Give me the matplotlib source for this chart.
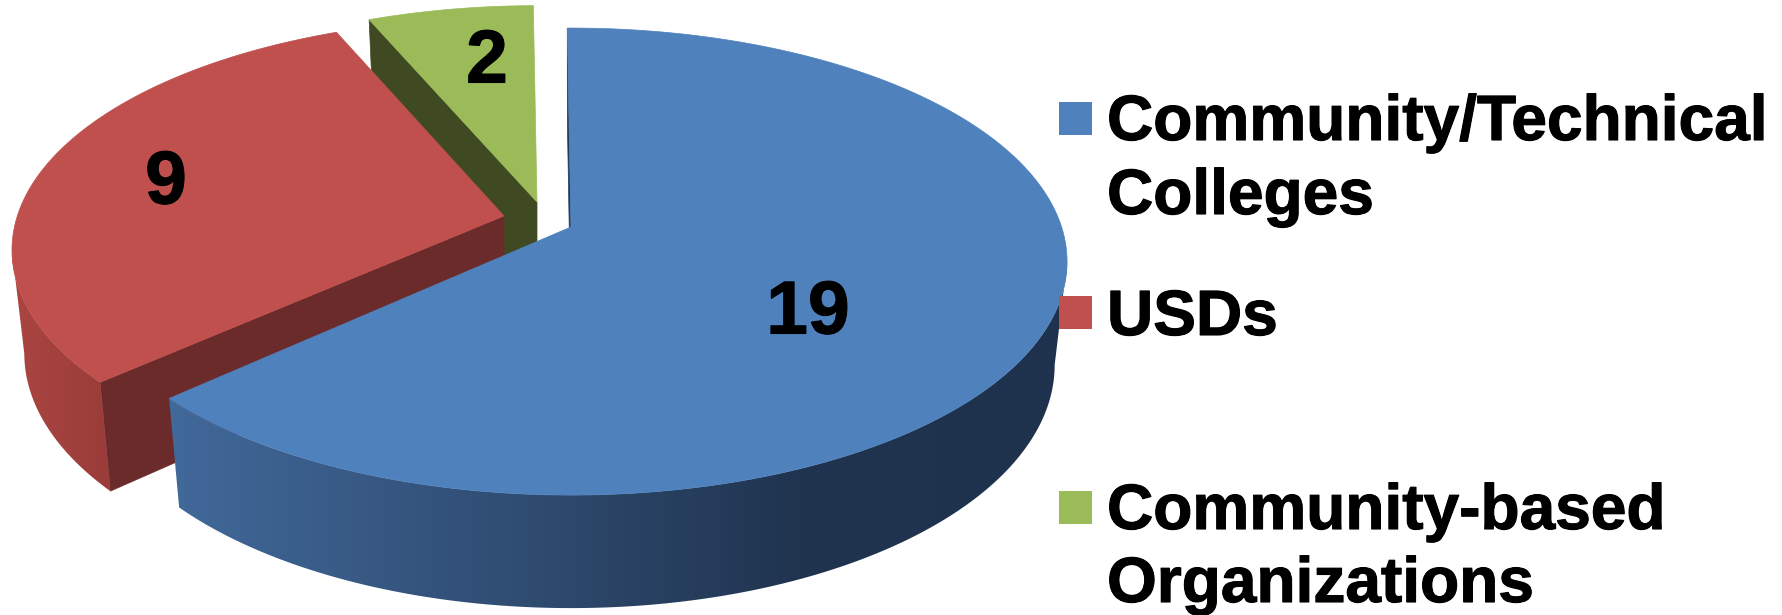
"""3D exploded pie chart with a hand drawn perspective, and a legend on the right."""

import numpy as np
from matplotlib import pyplot as plt
from matplotlib import patheffects
from matplotlib.colors import to_rgb
from matplotlib.patches import Polygon, Rectangle

plt.rcParams['font.family'] = ['Liberation Sans', 'DejaVu Sans']

# chart data
categories = ['Community/Technical\nColleges', 'USDs', 'Community-based\nOrganizations']
values = [19, 9, 2]

# colours for each slice
top_colors = ['#4F81BD', '#C0504D', '#9BBB59']
face_colors = ['#1F3A5C', '#6B2B2B', '#3F4A22']
# (x position, colour) stops of the shaded outer rim
rim_stops = [[(172, '#41699A'), (568, '#2D486C'), (800, '#20344F'), (1067, '#1E324D')],
             [(11, '#AA4642'), (108, '#9B3C3A')],
             [(0, '#3F4A22'), (1, '#3F4A22')]]

# pie shape, in pixels of the output picture
CENTER_X = 571
CENTER_Y = 227
RADIUS_X = 490.6
RADIUS_Y = 228.4
PERSPECTIVE = 0.148
DEPTH = 102
LOWER_SCALE = 0.975
START_ANGLE = 90.5
explode = [(0, 0), (-67, -11), (-34, -25)]
# small turn of the edges of a slice, in degrees (first edge, last edge)
turn = [(0, 0), (-1.0, -1.5), (-1.3, 0)]
radius_scale = [1, 0.992, 0.985]

# text and legend positions
value_pos = [(808, 314), (166, 184), (487, 63)]
legend_box_y = [102, 296, 491]
legend_baselines = [[140, 214], [335], [529, 602]]

bold_edge = [patheffects.withStroke(linewidth=0.8, foreground='black')]


def project(angle, lower=False, size=1):
    """Project points on the rim of the pie to the picture"""
    rad = np.radians(angle)
    x_part, y_part = np.cos(rad) * size, np.sin(rad) * size
    scale = 1 / (1 + PERSPECTIVE * y_part)
    if lower:
        return (CENTER_X + RADIUS_X * x_part * scale * LOWER_SCALE,
                CENTER_Y - RADIUS_Y * y_part * scale * LOWER_SCALE + DEPTH * scale)
    return CENTER_X + RADIUS_X * x_part * scale, CENTER_Y - RADIUS_Y * y_part * scale


def arc(first, last, lower=False, size=1):
    """Return the rim from one angle to the other as an Nx2 array"""
    angles = np.linspace(first, last, 200)
    x_vals, y_vals = project(angles, lower, size)
    return np.column_stack([x_vals, y_vals])


def draw_rim(axes, points, stops, zorder):
    """Draw the outer rim, with a horizontal gradient clipped to its outline"""
    patch = Polygon(points, closed=True, facecolor='none', edgecolor='none')
    axes.add_patch(patch)
    x_grid = np.linspace(0, 1783, 1783)
    xs = [stop[0] for stop in stops]
    rgb = np.array([to_rgb(stop[1]) for stop in stops])
    grad = np.stack([np.interp(x_grid, xs, rgb[:, i]) for i in range(3)], axis=-1)
    image = axes.imshow(grad[np.newaxis, :, :], extent=(0, 1783, 615, 0), aspect='auto',
                        zorder=zorder, interpolation='bilinear')
    image.set_clip_path(patch)


fig = plt.figure(figsize=(17.83, 6.15), dpi=100)
ax = fig.add_axes([0, 0, 1, 1])

# the rim can only be seen between the two points where the outline turns
tangent = np.degrees(np.arcsin(PERSPECTIVE))
rim_low = -180 + tangent
rim_high = -tangent

# the angles run clockwise, slices are drawn from the back to the front
total = sum(values)
stops_at = START_ANGLE - 360 * np.cumsum(values) / total
starts_at = np.concatenate([[START_ANGLE], stops_at[:-1]])

for i in [2, 1, 0]:
    off = np.array(explode[i])
    start = starts_at[i] + turn[i][0]
    stop = stops_at[i] + turn[i][1]
    size = radius_scale[i]
    zbase = (3 - i) * 10
    apex = np.array([CENTER_X, CENTER_Y])
    apex_low = np.array([CENTER_X, CENTER_Y + DEPTH])

    # cut face on the first edge of the slice
    corner = np.array(project(start, False, size))
    corner_low = np.array(project(start, True, size))
    ax.add_patch(Polygon(np.array([apex, corner, corner_low, apex_low]) + off, closed=True,
                         facecolor=face_colors[i], edgecolor=face_colors[i], linewidth=0.5,
                         zorder=zbase))

    # outer rim
    low = max(stop, rim_low)
    high = min(start, rim_high)
    if low < high:
        outline = np.vstack([arc(high, low, False, size), arc(low, high, True, size)]) + off
        draw_rim(ax, outline, rim_stops[i], zbase + 1)

    # top face
    top = np.vstack([[apex], arc(start, stop, False, size)]) + off
    ax.add_patch(Polygon(top, closed=True, facecolor=top_colors[i], edgecolor=top_colors[i],
                         linewidth=0.5, zorder=zbase + 2))

    # value on the slice
    ax.text(value_pos[i][0], value_pos[i][1], str(values[i]), fontsize=54, fontweight='bold',
            ha='center', va='center', color='black', zorder=50, path_effects=bold_edge)

# legend
for i, name in enumerate(categories):
    ax.add_patch(Rectangle((1059, legend_box_y[i]), 33, 33, facecolor=top_colors[i],
                           edgecolor='none', zorder=40))
    for line, base in zip(name.split('\n'), legend_baselines[i]):
        ax.text(1107, base, line, fontsize=46.1, fontweight='bold', ha='left',
                va='baseline', color='black', zorder=50, path_effects=bold_edge)

ax.set_xlim(0, 1783)
ax.set_ylim(615, 0)
ax.axis('off')
fig.savefig('out.png', dpi=100, facecolor='white')
